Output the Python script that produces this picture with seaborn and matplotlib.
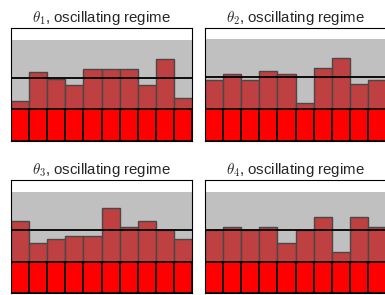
import numpy as np
import pandas as pd
import matplotlib
matplotlib.use("Agg")
import matplotlib.pyplot as plt
import seaborn as sns

# hodnoty (osa y 0..1)
titles = [r"$\theta_1$, oscillating regime", r"$\theta_2$, oscillating regime",
          r"$\theta_3$, oscillating regime", r"$\theta_4$, oscillating regime"]
bins = list(range(10))
upper = [0.896, 0.906, 0.888, 0.888]   # horní hranice šedého pásu
middle = [0.556, 0.565, 0.553, 0.553]  # černá čára
lower = [0.281, 0.282, 0.276, 0.276]   # horní hranice červeného pásu
theta1 = [0.358, 0.615, 0.550, 0.500, 0.639, 0.639, 0.639, 0.500, 0.725, 0.385]
theta2 = [0.538, 0.597, 0.538, 0.624, 0.597, 0.338, 0.650, 0.738, 0.509, 0.538]
theta3 = [0.638, 0.441, 0.471, 0.497, 0.497, 0.747, 0.582, 0.638, 0.553, 0.471]
theta4 = [0.553, 0.582, 0.553, 0.582, 0.441, 0.553, 0.667, 0.356, 0.667, 0.582]
heights = [theta1, theta2, theta3, theta4]

sns.set_style("white")
plt.rcParams['font.family'] = ['Liberation Sans', 'DejaVu Sans']
plt.rcParams['mathtext.fontset'] = 'cm'

fig = plt.figure(figsize=(3.85, 2.95), dpi=100)
W, H = 385, 295
# pozice panelů v pixelech: levý okraj, horní okraj
boxes = [(11, 28), (205, 28), (11, 179.5), (205, 179.5)]
pw, ph = 181, 113.3

for k in range(4):
    x0, y0 = boxes[k]
    ax = fig.add_axes([x0 / W, 1 - (y0 + ph) / H, pw / W, ph / H])
    df = pd.DataFrame({'bin': bins, 'h': heights[k]})
    df['lo'] = np.minimum(df['h'], lower[k])

    ax.axhspan(0, upper[k], color='#c0c0c0', lw=0, zorder=0)
    sns.barplot(data=df, x='bin', y='h', color='#bf4040', saturation=1,
                width=1, edgecolor='#484848', linewidth=1, ax=ax, zorder=1)
    sns.barplot(data=df, x='bin', y='lo', color='#ff0000', saturation=1,
                width=1, edgecolor='black', linewidth=1.2, ax=ax, zorder=2)
    ax.axhline(middle[k], color='black', lw=1.3, zorder=3)

    ax.set_xlim(-0.5, 9.5)
    ax.set_ylim(0, 1)
    ax.set_xticks([])
    ax.set_yticks([])
    ax.set_xlabel('')
    ax.set_ylabel('')
    for s in ax.spines.values():
        s.set_color('black')
        s.set_linewidth(0.8)
    ax.set_title(titles[k], fontsize=10.8, pad=4)

fig.savefig('out.png', dpi=100)
